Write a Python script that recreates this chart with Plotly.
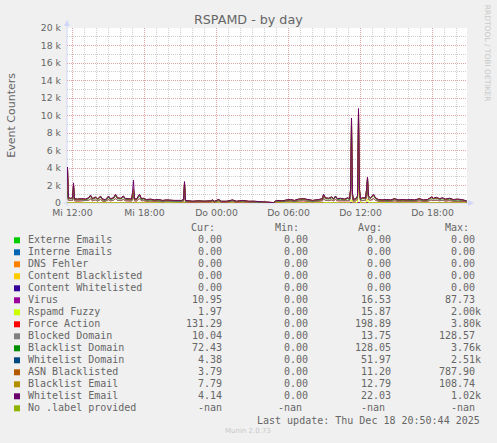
import plotly.graph_objects as go

# ---------------- data ----------------
DAY1 = "2025-12-17"
DAY2 = "2025-12-18"
TIMES_D1 = ["11:30", "11:35", "11:40", "11:50", "12:00", "12:05", "12:10", "12:25", "12:45", "13:05",
            "13:20", "13:30", "13:40", "13:55", "14:05", "14:20", "14:30", "14:45", "15:00", "15:10",
            "15:25", "15:35", "15:45", "16:00", "16:15", "16:25", "16:40", "16:55", "17:00", "17:05",
            "17:10", "17:20", "17:35", "17:45", "17:55", "18:10", "18:30", "18:50", "19:10", "19:30",
            "19:50", "20:10", "20:30", "20:50", "21:05", "21:15", "21:20", "21:25", "21:40", "22:00",
            "22:30", "23:00", "23:30", "23:40", "23:50"]
TIMES_D2 = ["00:10", "00:25", "00:50", "01:20", "01:40", "02:10", "02:40", "03:10", "03:40", "03:55",
            "04:45", "05:00", "05:30", "05:50", "06:10", "06:30", "06:50", "07:15", "07:40", "08:00",
            "08:30", "08:50", "08:55", "09:05", "09:20", "09:35", "09:45", "09:55", "10:05", "10:20",
            "10:40", "10:55", "11:05", "11:10", "11:15", "11:20", "11:25", "11:35", "11:45", "11:50",
            "11:55", "12:00", "12:10", "12:25", "12:30", "12:35", "12:40", "12:50", "13:05", "13:15",
            "13:30", "13:50", "14:10", "14:30", "14:50", "15:10", "15:30", "15:50", "16:10", "16:30",
            "16:55", "17:15", "17:35", "17:55", "18:05", "18:20", "18:35", "18:50", "19:05", "19:25",
            "19:45", "20:05", "20:25", "20:40", "20:50"]
TIMES = [f"{DAY1} {t}" for t in TIMES_D1] + [f"{DAY2} {t}" for t in TIMES_D2]

VIRUS = [15, 30, 15, 15, 15, 40, 15, 15, 15, 15,
         15, 20, 15, 18, 15, 20, 15, 14, 20, 15,
         15, 22, 15, 15, 20, 15, 15, 15, 25, 40,
         15, 15, 22, 15, 15, 14, 15, 13, 14, 12,
         13, 12, 12, 12, 12, 14, 50, 12, 11, 10,
         11, 10, 11, 13, 10, 14, 10, 10, 13, 10,
         12, 10, 10, 8, 5, 5, 12, 11, 13, 14,
         12, 15, 15, 13, 12, 14, 15, 22, 15, 15,
         18, 15, 20, 15, 15, 15, 15, 15, 30, 60,
         25, 14, 15, 20, 88, 30, 15, 15, 15, 30,
         50, 20, 15, 22, 15, 14, 13, 14, 13, 15,
         13, 14, 13, 14, 13, 15, 13, 14, 18, 15,
         17, 15, 15, 15, 15, 14, 15, 14, 13, 10.95]
FUZZY = [6, 40, 8, 6, 8, 60, 6, 6, 6, 6,
         8, 10, 6, 8, 6, 10, 6, 5, 10, 6,
         8, 12, 8, 6, 10, 6, 6, 6, 20, 50,
         6, 6, 12, 6, 6, 5, 6, 4, 5, 3,
         4, 3, 3, 3, 3, 5, 60, 3, 3, 2,
         3, 2, 3, 4, 2, 5, 2, 2, 4, 2,
         3, 2, 2, 1, 0, 0, 3, 3, 4, 5,
         3, 6, 6, 4, 3, 5, 6, 12, 8, 6,
         8, 6, 10, 6, 6, 6, 8, 6, 100, 300,
         60, 5, 6, 80, 2000, 500, 6, 8, 8, 150,
         400, 10, 8, 12, 8, 5, 4, 5, 4, 6,
         4, 5, 4, 5, 4, 6, 4, 5, 8, 6,
         7, 6, 8, 6, 6, 5, 6, 5, 4, 1.97]
FORCE = [230, 900, 280, 250, 280, 800, 230, 200, 230, 200,
         280, 420, 230, 320, 200, 370, 200, 180, 370, 230,
         280, 460, 280, 250, 370, 230, 230, 200, 450, 700,
         230, 200, 460, 230, 250, 180, 200, 160, 180, 135,
         160, 135, 135, 135, 135, 180, 950, 135, 110, 90,
         110, 90, 110, 160, 90, 180, 90, 90, 160, 90,
         135, 90, 90, 70, 20, 20, 135, 110, 160, 180,
         135, 200, 230, 160, 135, 180, 230, 460, 280, 250,
         320, 230, 370, 230, 250, 200, 280, 230, 600, 3500,
         400, 180, 230, 330, 3800, 450, 230, 280, 280, 600,
         1100, 370, 280, 460, 280, 180, 160, 180, 160, 230,
         160, 180, 160, 180, 160, 230, 160, 180, 320, 250,
         300, 230, 280, 200, 250, 180, 200, 180, 160, 131.29]
BLOCKED = [12, 20, 12, 12, 12, 25, 12, 12, 12, 12,
           12, 15, 12, 14, 12, 15, 12, 10, 15, 12,
           12, 16, 12, 12, 15, 12, 12, 12, 18, 30,
           12, 12, 16, 12, 12, 10, 12, 9, 10, 8,
           9, 8, 8, 8, 8, 10, 30, 8, 7, 6,
           7, 6, 7, 9, 6, 10, 6, 6, 9, 6,
           8, 6, 6, 4, 2, 2, 8, 7, 9, 10,
           8, 12, 12, 9, 8, 10, 12, 16, 12, 12,
           14, 12, 15, 12, 12, 12, 12, 12, 25, 110,
           18, 10, 12, 15, 129, 20, 12, 12, 12, 25,
           40, 15, 12, 16, 12, 10, 9, 10, 9, 12,
           9, 10, 9, 10, 9, 12, 9, 10, 14, 12,
           13, 12, 12, 12, 12, 10, 12, 10, 9, 10.04]
BL_DOMAIN = [150, 400, 180, 170, 180, 600, 150, 130, 150, 130,
             180, 300, 150, 220, 130, 260, 130, 110, 260, 150,
             180, 340, 180, 170, 260, 150, 150, 130, 300, 530,
             150, 130, 340, 150, 170, 110, 130, 100, 110, 85,
             100, 85, 85, 85, 85, 110, 800, 85, 70, 55,
             70, 55, 70, 100, 55, 110, 55, 55, 100, 55,
             85, 55, 55, 40, 12, 12, 85, 70, 100, 110,
             85, 130, 150, 100, 85, 110, 150, 340, 180, 170,
             220, 150, 260, 150, 170, 130, 180, 150, 450, 3760,
             300, 110, 150, 230, 2900, 300, 150, 180, 180, 400,
             800, 260, 180, 340, 180, 110, 100, 110, 100, 150,
             100, 110, 100, 110, 100, 150, 100, 110, 220, 170,
             200, 150, 180, 130, 170, 110, 130, 110, 100, 72.43]
WL_DOMAIN = [45, 2510, 55, 50, 55, 500, 45, 45, 45, 45,
             55, 70, 45, 60, 45, 65, 45, 45, 65, 45,
             55, 80, 55, 50, 65, 45, 45, 45, 100, 150,
             45, 45, 80, 45, 50, 45, 45, 35, 45, 30,
             35, 30, 30, 30, 30, 45, 350, 30, 28, 20,
             28, 20, 28, 35, 20, 45, 20, 20, 35, 20,
             30, 20, 20, 15, 6, 6, 30, 28, 35, 45,
             30, 45, 45, 35, 30, 45, 45, 80, 55, 50,
             60, 45, 65, 45, 50, 45, 55, 45, 200, 1100,
             120, 45, 45, 70, 1000, 120, 45, 55, 55, 200,
             400, 65, 55, 80, 55, 45, 35, 45, 35, 45,
             35, 45, 35, 45, 35, 45, 35, 45, 60, 50,
             55, 45, 55, 45, 50, 45, 45, 45, 35, 4.38]
ASN_BL = [10, 50, 10, 10, 10, 60, 10, 10, 10, 10,
          10, 15, 10, 12, 10, 12, 10, 8, 12, 10,
          10, 15, 10, 10, 12, 10, 10, 10, 25, 40,
          10, 10, 15, 10, 10, 8, 10, 7, 8, 6,
          7, 6, 6, 6, 6, 8, 60, 6, 5, 4,
          5, 4, 5, 7, 4, 8, 4, 4, 7, 4,
          6, 4, 4, 3, 1, 1, 6, 5, 7, 8,
          6, 10, 10, 7, 6, 8, 10, 15, 10, 10,
          12, 10, 12, 10, 10, 10, 10, 10, 45, 787.9,
          30, 8, 10, 15, 500, 30, 10, 10, 10, 45,
          80, 12, 10, 15, 10, 8, 7, 8, 7, 10,
          7, 8, 7, 8, 7, 10, 7, 8, 12, 10,
          11, 10, 10, 10, 10, 8, 10, 8, 7, 3.79]
BL_EMAIL = [12, 30, 15, 12, 15, 45, 12, 12, 12, 12,
            15, 20, 12, 18, 12, 18, 12, 10, 18, 12,
            15, 20, 15, 12, 18, 12, 12, 12, 30, 40,
            12, 12, 20, 12, 12, 10, 12, 9, 10, 8,
            9, 8, 8, 8, 8, 10, 50, 8, 6, 5,
            6, 5, 6, 9, 5, 10, 5, 5, 9, 5,
            8, 5, 5, 3, 1, 1, 8, 6, 9, 10,
            8, 12, 12, 9, 8, 10, 12, 20, 15, 12,
            18, 12, 18, 12, 12, 12, 15, 12, 20, 50,
            17, 10, 12, 15, 108.74, 20, 12, 15, 15, 20,
            30, 18, 15, 20, 15, 10, 9, 10, 9, 12,
            9, 10, 9, 10, 9, 12, 9, 10, 18, 12,
            15, 12, 15, 12, 12, 10, 12, 10, 9, 7.79]
WL_EMAIL = [20, 120, 25, 25, 25, 170, 20, 20, 20, 20,
            25, 30, 20, 30, 20, 30, 20, 18, 30, 20,
            25, 35, 25, 25, 30, 20, 20, 20, 232, 1020,
            20, 20, 35, 20, 25, 18, 20, 13, 18, 13,
            13, 13, 13, 13, 13, 18, 100, 13, 10, 8,
            10, 8, 10, 13, 8, 18, 8, 8, 13, 8,
            13, 8, 8, 6, 3, 3, 13, 10, 13, 18,
            13, 20, 20, 13, 13, 18, 20, 35, 25, 25,
            30, 20, 30, 20, 25, 20, 25, 20, 30, 32,
            30, 18, 20, 25, 274, 30, 20, 25, 25, 30,
            50, 30, 25, 35, 25, 18, 13, 18, 13, 20,
            13, 18, 13, 18, 13, 20, 13, 18, 30, 25,
            32, 20, 25, 20, 25, 18, 20, 18, 13, 4.14]

# series that stayed at zero all day (two readings: start and end)
ZERO_TIMES = ["2025-12-17 11:30", "2025-12-18 20:50"]
ZERO_VALUES = [0, 0]

SERIES_LABELS = ["Externe Emails", "Interne Emails", "DNS Fehler", "Content Blacklisted",
                 "Content Whitelisted", "Virus", "Rspamd Fuzzy", "Force Action", "Blocked Domain",
                 "Blacklist Domain", "Whitelist Domain", "ASN Blacklisted", "Blacklist Email",
                 "Whitelist Email", "No .label provided"]
SERIES_COLORS = ["#00CC00", "#0066B3", "#FF8000", "#FFCC00", "#330099", "#990099", "#CCFF00",
                 "#FF0000", "#808080", "#008F00", "#00487D", "#B35A00", "#B38F00", "#6B006B",
                 "#8FB300"]
CUR = ["0.00", "0.00", "0.00", "0.00", "0.00", "10.95", "1.97", "131.29", "10.04", "72.43",
       "4.38", "3.79", "7.79", "4.14", "-nan"]
MIN = ["0.00", "0.00", "0.00", "0.00", "0.00", "0.00", "0.00", "0.00", "0.00", "0.00",
       "0.00", "0.00", "0.00", "0.00", "-nan"]
AVG = ["0.00", "0.00", "0.00", "0.00", "0.00", "16.53", "15.87", "198.89", "13.75", "128.05",
       "51.97", "11.20", "12.79", "22.03", "-nan"]
MAX = ["0.00", "0.00", "0.00", "0.00", "0.00", "87.73", "2.00k", "3.80k", "128.57", "3.76k",
       "2.51k", "787.90", "108.74", "1.02k", "-nan"]

X_TICKS = ["2025-12-17 12:00", "2025-12-17 18:00", "2025-12-18 00:00",
           "2025-12-18 06:00", "2025-12-18 12:00", "2025-12-18 18:00"]
X_TICK_LABELS = ["Mi 12:00", "Mi 18:00", "Do 00:00", "Do 06:00", "Do 12:00", "Do 18:00"]
Y_TICKS = [0, 2000, 4000, 6000, 8000, 10000, 12000, 14000, 16000, 18000, 20000]
Y_TICK_LABELS = ["0", "2 k", "4 k", "6 k", "8 k", "10 k", "12 k", "14 k", "16 k", "18 k", "20 k"]

TITLE = "RSPAMD - by day"
Y_TITLE = "Event Counters"
LAST_UPDATE = "Last update: Thu Dec 18 20:50:44 2025"
FOOTER = "Munin 2.0.73"
WATERMARK = "RRDTOOL / TOBI OETIKER"

# ---------------- layout geometry ----------------
W, H = 497, 443
L, R, T, B = 67, 30, 28, 240
PW, PH = W - L - R, H - T - B
FONT_COLOR = "#666666"
AXIS_COLOR = "#CFD6F8"
MONO = "DejaVu Sans Mono"
SANS = "DejaVu Sans"


def px(x):
    return (x - L) / PW


def py(y):
    return (H - B - y) / PH


fig = go.Figure()

# zero series (not stacked)
for i in range(5):
    fig.add_trace(go.Scatter(x=ZERO_TIMES, y=ZERO_VALUES, mode="lines",
                             line=dict(color=SERIES_COLORS[i], width=1),
                             hoverinfo="skip", showlegend=False))

stacked = [VIRUS, FUZZY, FORCE, BLOCKED, BL_DOMAIN, WL_DOMAIN, ASN_BL, BL_EMAIL, WL_EMAIL]
for k, vals in enumerate(stacked):
    fig.add_trace(go.Scatter(x=TIMES, y=vals, mode="lines", stackgroup="one", fill="none",
                             line=dict(color=SERIES_COLORS[5 + k], width=1),
                             hoverinfo="skip", showlegend=False))

shapes = []
ann = []

# axis lines + arrows
shapes.append(dict(type="line", xref="paper", yref="paper", x0=px(67), x1=px(67),
                   y0=py(206), y1=py(24), line=dict(color=AXIS_COLOR, width=1), layer="between"))
shapes.append(dict(type="line", xref="paper", yref="paper", x0=px(64), x1=px(470),
                   y0=py(203), y1=py(203), line=dict(color=AXIS_COLOR, width=1), layer="between"))
shapes.append(dict(type="path", xref="paper", yref="paper",
                   path=f"M {px(64)},{py(26)} L {px(70)},{py(26)} L {px(67)},{py(20)} Z",
                   fillcolor=AXIS_COLOR, line=dict(width=0), layer="above"))
shapes.append(dict(type="path", xref="paper", yref="paper",
                   path=f"M {px(468)},{py(200)} L {px(468)},{py(206)} L {px(474)},{py(203)} Z",
                   fillcolor=AXIS_COLOR, line=dict(width=0), layer="above"))

# title, axis title, watermark, footer
ann.append(dict(text=TITLE, x=px(248.5), y=py(19.5), xref="paper", yref="paper",
                xanchor="center", yanchor="middle", showarrow=False,
                font=dict(family=SANS, size=12.7, color=FONT_COLOR)))
ann.append(dict(text=Y_TITLE, x=px(10.7), y=py(115), xref="paper", yref="paper",
                xanchor="center", yanchor="middle", showarrow=False, textangle=-90,
                font=dict(family=SANS, size=11, color=FONT_COLOR)))
ann.append(dict(text=WATERMARK, x=px(487.7), y=py(53.5), xref="paper", yref="paper",
                xanchor="center", yanchor="middle", showarrow=False, textangle=90,
                font=dict(family=SANS, size=7.5, color="#C8C8C8")))
ann.append(dict(text=FOOTER, x=px(248), y=py(431.3), xref="paper", yref="paper",
                xanchor="center", yanchor="middle", showarrow=False,
                font=dict(family=SANS, size=7, color="#C8C8C8")))
ann.append(dict(text=LAST_UPDATE, x=px(482.3), y=py(420), xref="paper", yref="paper",
                xanchor="right", yanchor="middle", showarrow=False,
                font=dict(family=MONO, size=10, color=FONT_COLOR)))

# legend table
NB = "\u00a0"
HEADERS = [("Cur:", 217.3), ("Min:", 300.6), ("Avg:", 384.0), ("Max:", 470.6)]
for text, xr in HEADERS:
    ann.append(dict(text=text, x=px(xr), y=py(227.3), xref="paper", yref="paper",
                    xanchor="right", yanchor="middle", showarrow=False,
                    font=dict(family=MONO, size=10, color=FONT_COLOR)))

COLUMNS = [(CUR, 229.9, 1), (MIN, 315.6, 2), (AVG, 399.3, 2), (MAX, 483.3, 1)]
for i, label in enumerate(SERIES_LABELS):
    yc = 239.3 + 12 * i
    shapes.append(dict(type="rect", xref="paper", yref="paper",
                       x0=px(14), x1=px(20), y0=py(yc + 4), y1=py(yc - 2),
                       fillcolor=SERIES_COLORS[i], line=dict(width=0), layer="above"))
    ann.append(dict(text=label, x=px(25.5), y=py(yc), xref="paper", yref="paper",
                    xanchor="left", yanchor="middle", showarrow=False,
                    font=dict(family=MONO, size=10, color=FONT_COLOR)))
    for col, xr, nanpad in COLUMNS:
        v = col[i]
        if v.endswith("k"):
            s = v
        elif v == "-nan":
            s = v + NB * nanpad
        else:
            s = v + NB
        ann.append(dict(text=s, x=px(xr), y=py(yc), xref="paper", yref="paper",
                        xanchor="right", yanchor="middle", showarrow=False,
                        font=dict(family=MONO, size=10, color=FONT_COLOR)))

MAJOR_GRID = "rgba(240,120,120,0.5)"
MINOR_GRID = "rgba(185,185,185,0.7)"

fig.update_layout(
    width=W, height=H,
    margin=dict(l=L, r=R, t=T, b=B, pad=0),
    paper_bgcolor="#F0F0F0", plot_bgcolor="#FFFFFF",
    showlegend=False,
    shapes=shapes, annotations=ann,
    xaxis=dict(type="date", range=["2025-12-17 11:32:30", "2025-12-18 20:52:30"],
               tickmode="array", tickvals=X_TICKS, ticktext=X_TICK_LABELS,
               showgrid=True, gridcolor=MAJOR_GRID, griddash="1px,1px", gridwidth=1,
               minor=dict(tick0="2025-12-17 12:00", dtick=3600000, showgrid=True,
                          gridcolor=MINOR_GRID, griddash="1px,1px", gridwidth=1),
               zeroline=False, showline=False, ticks="", ticklabelstandoff=3,
               tickfont=dict(family=SANS, size=9.3, color=FONT_COLOR),
               fixedrange=True),
    yaxis=dict(range=[0, 20000], tickmode="array", tickvals=Y_TICKS, ticktext=Y_TICK_LABELS,
               showgrid=True, gridcolor=MAJOR_GRID, griddash="1px,1px", gridwidth=1,
               minor=dict(dtick=1000, showgrid=True, gridcolor=MINOR_GRID,
                          griddash="1px,1px", gridwidth=1),
               zeroline=False, showline=False, ticks="", ticklabelstandoff=5,
               tickfont=dict(family=SANS, size=9.3, color=FONT_COLOR),
               fixedrange=True),
)

fig.write_html("out.html", config={"displayModeBar": False},
               post_script="document.body.style.margin='0';document.body.style.overflow='hidden';")
